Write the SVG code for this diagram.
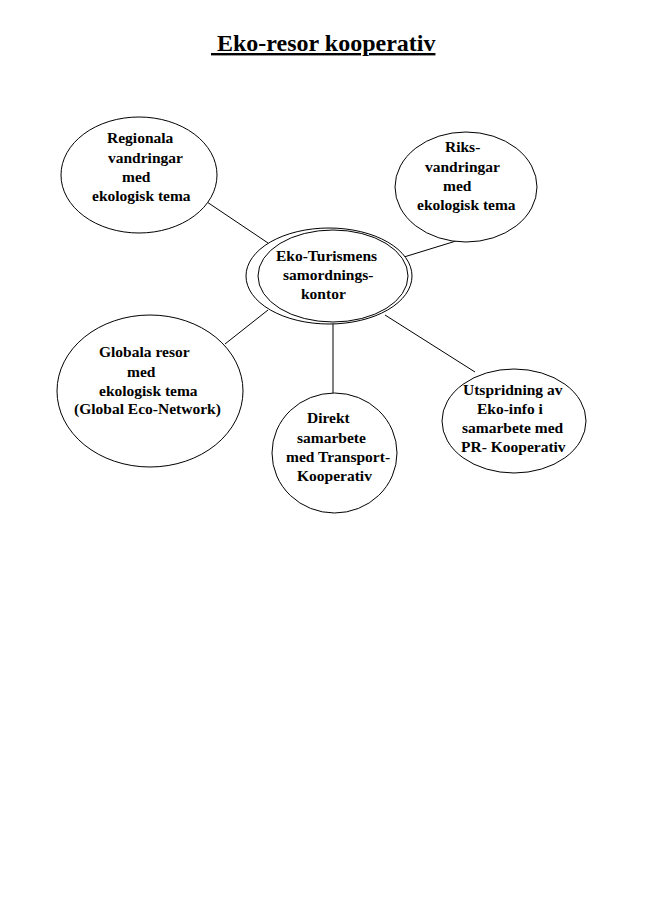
<svg xmlns="http://www.w3.org/2000/svg" width="661" height="900" viewBox="0 0 661 900">
<style>
.n{fill:#fff;stroke:#000;stroke-width:1}
.t{font-family:"Liberation Serif",Tinos,"Times New Roman",Times,"DejaVu Serif","Noto Serif",serif;font-weight:bold;font-size:15.5px;fill:#000}
.h{font-family:"Liberation Serif",Tinos,"Times New Roman",Times,"DejaVu Serif","Noto Serif",serif;font-weight:bold;font-size:24px;text-decoration:underline;fill:#000}
.c{stroke:#000;stroke-width:1;fill:none}
</style>
<rect width="661" height="900" fill="#fff"/>
<text class="h" x="211" y="51" xml:space="preserve"> Eko-resor kooperativ</text>
<g id="connectors">
<line class="c" x1="207" y1="202" x2="268" y2="243"/>
<line class="c" x1="404" y1="257" x2="456" y2="241"/>
<line class="c" x1="225" y1="344" x2="268" y2="310"/>
<line class="c" x1="333" y1="323" x2="333" y2="393"/>
<line class="c" x1="385" y1="315" x2="475" y2="372"/>
</g>
<g id="regional">
<ellipse class="n" cx="139" cy="175" rx="78" ry="58"/>
<text class="t" x="107" y="143">Regionala</text>
<text class="t" x="108" y="163">vandringar</text>
<text class="t" x="122" y="182">med</text>
<text class="t" x="92" y="201">ekologisk tema</text>
</g>
<g id="riks">
<ellipse class="n" cx="466" cy="187" rx="71" ry="55"/>
<text class="t" x="445" y="152">Riks-</text>
<text class="t" x="425" y="172">vandringar</text>
<text class="t" x="443" y="191">med</text>
<text class="t" x="417" y="210">ekologisk tema</text>
</g>
<g id="central">
<ellipse class="n" cx="329" cy="276" rx="83" ry="48"/>
<ellipse class="n" cx="333" cy="276" rx="75" ry="46"/>
<text class="t" x="276" y="261">Eko-Turismens</text>
<text class="t" x="283" y="280">samordnings-</text>
<text class="t" x="301" y="299">kontor</text>
</g>
<g id="globala">
<ellipse class="n" cx="150" cy="391" rx="93" ry="76"/>
<text class="t" x="99" y="357">Globala resor</text>
<text class="t" x="127" y="377">med</text>
<text class="t" x="99" y="396">ekologisk tema</text>
<text class="t" x="74" y="414">(Global Eco-Network)</text>
</g>
<g id="direkt">
<ellipse class="n" cx="334.5" cy="453" rx="62.5" ry="60"/>
<text class="t" x="307" y="423">Direkt</text>
<text class="t" x="297" y="443">samarbete</text>
<text class="t" x="286" y="462">med Transport-</text>
<text class="t" x="297" y="481">Kooperativ</text>
</g>
<g id="utspridning">
<ellipse class="n" cx="514" cy="421" rx="72" ry="52"/>
<text class="t" x="463" y="395">Utspridning av</text>
<text class="t" x="477" y="414">Eko-info i</text>
<text class="t" x="462" y="433">samarbete med</text>
<text class="t" x="461" y="452">PR- Kooperativ</text>
</g>
</svg>
